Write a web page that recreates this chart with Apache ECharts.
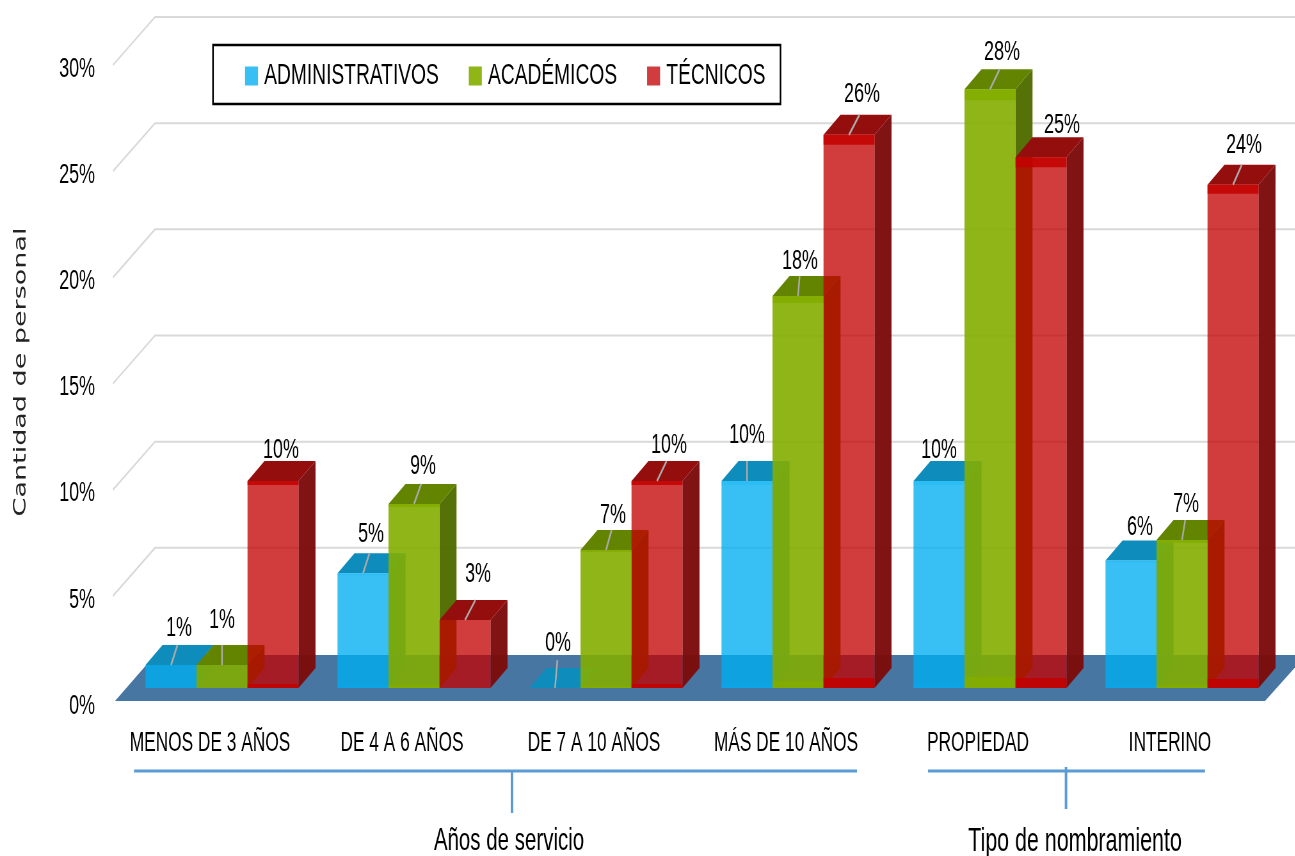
<!DOCTYPE html>
<html><head><meta charset="utf-8">
<style>html,body{margin:0;padding:0;background:#fff;overflow:hidden;width:1295px;height:856px}#c{width:2023px;height:856px;transform:scaleX(0.64);transform-origin:0 0}</style>
<script src="https://cdn.jsdelivr.net/npm/echarts@6/dist/echarts.min.js"></script>
</head><body><div id="c"></div>
<script>
const categories = ['MENOS DE 3 AÑOS','DE 4 A 6 AÑOS','DE 7 A 10 AÑOS','MÁS DE 10 AÑOS','PROPIEDAD','INTERINO'];
const administrativos = [1.08, 5.4, 0, 9.75, 9.75, 6.0];
const academicos = [1.08, 8.67, 6.5, 18.46, 28.2, 6.97];
const tecnicos = [9.75, 3.2, 9.75, 26.05, 25.0, 23.7];
const gridTicks = [5, 10, 15, 20, 25, 30];

// The reference is a horizontally squeezed picture: the page draws wide and squeezes by SX.
const SX = 0.64;
const X = px => px / SX;
const FONT = '"Liberation Sans",Arial,sans-serif';
const INK = '#000';
const DX = X(17), DY = -20, BASE = 15, SHIFT = X(12), W = X(51);
const labelNudge = [
  [[8,-38],[8,-40],[3,-46],[0,-47],[0,-32],[9,-34]],
  [[0,-46],[9,-39],[7,-36],[2,-36],[12,-38],[4,-37]],
  [[8,-32],[13,-47],[12,-37],[13,-42],[21,-33],[11,-40]]
];
const looks = [
  {name:'ADMINISTRATIVOS', data:administrativos, legend:'#38C0F5', front:'rgba(0,174,242,0.78)', band:'rgba(0,174,242,0.2)', top:'#0E8DBC', side:'#0E7FA8'},
  {name:'ACADÉMICOS', data:academicos, legend:'#8FB516', front:'rgba(131,173,0,0.9)', band:'rgba(131,173,0,0.85)', top:'#628400', side:'#516C00'},
  {name:'TÉCNICOS', data:tecnicos, legend:'#D13D3F', front:'rgba(194,0,0,0.76)', band:'rgba(194,0,0,0.85)', top:'#950E0E', side:'#7C0B0B'}
];
function poly(points, fill, opacity){
  return {type:'polygon', shape:{points}, style:{fill, opacity: opacity==null?1:opacity}};
}
function barSeries(look, si){
  return {
    type:'custom', name:look.name, coordinateSystem:'cartesian2d',
    itemStyle:{color:look.legend},
    data: look.data.map((v,i)=>[i,v]),
    encode:{x:0,y:1},
    renderItem(params, api){
      const c = api.value(0), v = api.value(1);
      const p0 = api.coord([c,0]), p1 = api.coord([c,v]);
      const cx = p0[0] + SHIFT + (si-1)*W;
      const x0 = cx - W/2, x1 = cx + W/2, yb = p0[1]-BASE, yt = p1[1]-BASE;
      const h = yb - yt, band = Math.round(h*0.018);
      const kids = [];
      if (h > 0) kids.push(poly([[x1,yb],[x1+DX,yb+DY],[x1+DX,yt+DY],[x1,yt]], look.side, 0.97));
      kids.push(poly([[x0,yt],[x0+DX,yt+DY],[x1+DX,yt+DY],[x1,yt]], look.top));
      if (h > 0) {
        if (band > 1) {
          kids.push({type:'rect', shape:{x:x0,y:yt,width:W,height:band}, style:{fill:look.band}});
          kids.push({type:'rect', shape:{x:x0,y:yb-band,width:W,height:band}, style:{fill:look.band}});
        }
        kids.push({type:'rect', shape:{x:x0,y:yt,width:W,height:h}, style:{fill:look.front}});
      }
      const n = labelNudge[si][c];
      if (n[1] < -34) {
        kids.push({type:'line', shape:{x1:cx, y1:yt, x2:cx+X(n[0]*0.8), y2:yt-(h>0?20:28)}, style:{stroke:'#ABABAB', lineWidth:2.5}});
      }
      kids.push({type:'text', x:cx+X(n[0]), y:yt+n[1]+1, style:{text:Math.round(v)+'%', font:'28px '+FONT, fill:INK, align:'center', verticalAlign:'middle'}});
      return {type:'group', children:kids};
    }
  };
}
const floorSeries = {
  type:'custom', coordinateSystem:'cartesian2d', silent:true, z:1, data:[[0,0]], legendHoverLink:false,
  renderItem(params, api){
    const y = api.coord([0,0])[1], l = params.coordSys.x;
    return poly([[l+X(1),y-2],[l+X(41),y-48],[X(1306),y-48],[X(1265),y-2]], '#4776A3');
  }
};
const gridSeries = {
  type:'custom', coordinateSystem:'cartesian2d', silent:true, z:1, data:gridTicks.map(t=>[0,t]),
  renderItem(params, api){
    const y = api.coord([0,api.value(1)])[1], l = params.coordSys.x;
    return {type:'polyline', shape:{points:[[l-X(1),y-1],[l+X(41),y-49],[X(1295),y-49]]}, style:{stroke:'#D9D9D9', lineWidth:2, fill:null}};
  }
};
const blue = '#5B9BD5';
function seg(x1,y1,x2,y2){ return {type:'line', shape:{x1:X(x1),y1,x2:X(x2),y2}, style:{stroke:blue, lineWidth:x1===x2?4:3}, z:5}; }
function txt(t,x,y,size){ return {type:'text', x:X(x), y, style:{text:t, font:size+'px '+FONT, fill:INK, align:'center', verticalAlign:'middle'}, z:5}; }
const chart = echarts.init(document.getElementById('c'), null, {renderer:'canvas', width:2023, height:856});
chart.setOption({
  animation:false,
  backgroundColor:'#fff',
  grid:{left:X(114), width:X(1152), top:66, height:637, containLabel:false},
  xAxis:{type:'category', data:categories, axisLine:{show:false}, axisTick:{show:false},
    axisLabel:{margin:27, fontFamily:FONT, fontSize:27, color:INK, interval:0}},
  yAxis:{type:'value', min:0, max:30, interval:5, splitLine:{show:false}, axisLine:{show:false}, axisTick:{show:false},
    axisLabel:{formatter:'{t|{value}%}', margin:X(19), rich:{t:{fontFamily:FONT, fontSize:28, color:INK, padding:[6,0,0,0]}}}},
  legend:{left:X(213), top:45, orient:'horizontal', padding:[16,X(15),13,X(32)], itemGap:X(30), itemWidth:X(13), itemHeight:19, icon:'rect',
    borderColor:'#000', borderWidth:2.5, backgroundColor:'#fff',
    textStyle:{fontFamily:FONT, fontSize:30, color:INK, padding:[0,0,0,X(3)]},
    data:looks.map(l=>({name:l.name, itemStyle:{color:l.legend}}))},
  graphic:[
    seg(134,771,857,771), seg(512,771,512,813), seg(928,771,1205,771), seg(1066,767,1066,809),
    txt('Años de servicio',509,841,32), txt('Tipo de nombramiento',1075,842,33.5),
    {type:'text', x:X(21), y:372, rotation:Math.PI/2, style:{text:'Cantidad de personal', font:'27px "DejaVu Sans",sans-serif', fill:'#222', align:'center', verticalAlign:'middle'}, z:5}
  ],
  series:[gridSeries, floorSeries].concat(looks.map((l,i)=>Object.assign(barSeries(l,i),{z:2+i})))
});
</script></body></html>
